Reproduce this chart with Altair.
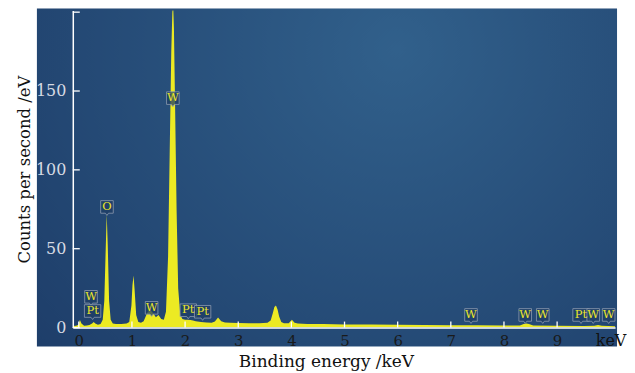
import altair as alt
import pandas as pd

# ---- spectrum ----
energy = [-0.11, -0.05, 0.0, 0.02, 0.05, 0.1, 0.15, 0.2, 0.25, 0.28, 0.31, 0.36, 0.41, 0.45, 0.48,
          0.505, 0.525, 0.545, 0.57, 0.6, 0.64, 0.7, 0.8, 0.9, 0.95, 0.99, 1.01, 1.03, 1.05, 1.08,
          1.12, 1.17, 1.22, 1.27, 1.3, 1.35, 1.4, 1.45, 1.5, 1.55, 1.6, 1.64, 1.68, 1.71, 1.74, 1.76,
          1.775, 1.79, 1.81, 1.84, 1.87, 1.91, 1.95, 2.0, 2.05, 2.1, 2.15, 2.2, 2.3, 2.4, 2.5, 2.56,
          2.62, 2.68, 2.75, 2.85, 3.0, 3.2, 3.4, 3.55, 3.61, 3.65, 3.68, 3.71, 3.74, 3.77, 3.81, 3.86,
          3.95, 4.01, 4.06, 4.12, 4.3, 4.6, 5.0, 5.5, 6.0, 6.5, 7.0, 7.3, 7.4, 7.5, 8.0, 8.3, 8.37,
          8.42, 8.47, 8.55, 9.0, 9.5, 9.7, 9.77, 9.84, 10.09]
counts = [1.0, 1.2, 2.0, 5.0, 2.5, 1.2, 1.3, 1.6, 2.5, 3.5, 2.5, 1.8, 2.2, 5.0, 17.0,
          48.0, 72.0, 52.0, 17.0, 5.0, 2.5, 2.2, 2.3, 2.6, 3.5, 14.0, 27.0, 33.0, 24.0, 8.0,
          3.5, 3.0, 4.0, 8.0, 10.0, 11.0, 9.0, 6.5, 8.0, 5.5, 5.0, 10.0, 45.0, 110.0, 175.0, 200.0,
          205.0, 190.0, 145.0, 75.0, 25.0, 8.0, 5.5, 5.0, 5.0, 4.8, 4.5, 4.0, 3.6, 3.2, 3.0, 3.8,
          6.3, 4.0, 3.2, 3.0, 2.9, 2.8, 2.7, 3.0, 4.5, 9.0, 13.0, 14.0, 11.5, 7.0, 3.5, 2.8,
          2.8, 5.0, 3.0, 2.5, 2.3, 2.2, 2.0, 1.9, 1.8, 1.6, 1.5, 1.4, 1.5, 1.4, 1.3, 1.3, 2.2,
          2.6, 2.2, 1.3, 1.1, 1.0, 1.2, 1.6, 1.1, 0.9]

# ---- peak labels ----
lab_text = ["W", "Pt", "O", "W", "W", "Pt", "Pt", "W", "W", "W", "Pt", "W", "W"]
lab_x = [0.23, 0.26, 0.53, 1.37, 1.77, 2.06, 2.33, 7.38, 8.40, 8.73, 9.45, 9.68, 9.97]
lab_y = [19.5, 10.5, 76.5, 12.5, 145.5, 11.0, 10.0, 8.0, 8.0, 8.0, 8.0, 8.0, 8.0]

x_ticks = [0, 1, 2, 3, 4, 5, 6, 7, 8, 9]
y_ticks = [0, 50, 100, 150, 200]
y_labels = [0, 50, 100, 150]

X_DOMAIN = [-0.113, 10.09]
Y_DOMAIN = [0, 201]
W, H = 544, 318
FONT = "DejaVu Serif"

spec = pd.DataFrame({"energy": energy, "counts": counts})
labels = pd.DataFrame({"label": lab_text, "x": lab_x, "y": lab_y})

xs = alt.Scale(domain=X_DOMAIN, nice=False, zero=False)
ys = alt.Scale(domain=Y_DOMAIN, nice=False, zero=False)

panel = alt.Chart(alt.Data(values=[{}])).mark_rect(
    color=alt.RadialGradient(
        gradient="radial", x1=0.62, y1=0.28, r1=0.0, x2=0.62, y2=0.28, r2=0.8,
        stops=[alt.GradientStop(offset=0, color="#31608b"),
               alt.GradientStop(offset=1, color="#1e3e6a")]),
).encode(x=alt.value(-36), x2=alt.value(W + 2), y=alt.value(-2), y2=alt.value(H + 19))

area = alt.Chart(spec).mark_area(color="#f3f020", opacity=0.97, clip=True, interpolate="linear").encode(
    x=alt.X("energy:Q", scale=xs,
            axis=alt.Axis(values=x_ticks, title="Binding energy /keV", ticks=False, grid=False,
                          domainColor="white", domainWidth=1.5, zindex=1,
                          labelColor="#1a1a1a", labelFont=FONT, labelFontSize=15, labelPadding=6,
                          titleFont=FONT, titleFontSize=17, titleFontWeight="normal",
                          titleColor="#111", titlePadding=5, titleX=254)),
    y=alt.Y("counts:Q", scale=ys,
            axis=alt.Axis(values=y_labels, title="Counts per second /eV", ticks=False, grid=False,
                          domainColor="white", domainWidth=1.5, zindex=1,
                          labelColor="#d6dae3", labelFont=FONT, labelFontSize=16, labelPadding=7,
                          titleFont=FONT, titleFontSize=16.5, titleFontWeight="normal",
                          titleColor="#111", titlePadding=3)),
)

xt = alt.Chart(pd.DataFrame({"t": x_ticks})).mark_rule(color="white", strokeWidth=1.3).encode(
    x=alt.X("t:Q", scale=xs), y=alt.value(H - 6), y2=alt.value(H))
yt = alt.Chart(pd.DataFrame({"t": y_ticks})).mark_rule(color="white", strokeWidth=1.3).encode(
    y=alt.Y("t:Q", scale=ys), x=alt.value(0), x2=alt.value(7))

box_w = "M-1,-1H1V1H0.25L0,1.35L-0.25,1H-1Z"
box_pt = "M-1.3,-1H1.3V1H0.25L0,1.35L-0.25,1H-1.3Z"
boxes = alt.Chart(labels).mark_point(
    filled=True, fill="#1f3e66", fillOpacity=0.75, stroke="#8d9aae", strokeWidth=0.8, size=160,
).encode(
    x=alt.X("x:Q", scale=xs), y=alt.Y("y:Q", scale=ys),
    shape=alt.Shape("label:N", scale=alt.Scale(domain=["W", "Pt", "O"], range=[box_w, box_pt, box_w]),
                    legend=None),
)
texts = alt.Chart(labels).mark_text(color="#ece62a", font=FONT, fontSize=11.5, dy=0).encode(
    x=alt.X("x:Q", scale=xs), y=alt.Y("y:Q", scale=ys), text="label:N")

kev = alt.Chart(alt.Data(values=[{}])).mark_text(
    text="keV", font=FONT, fontSize=16, color="#111").encode(x=alt.value(W - 4), y=alt.value(H + 14))

chart = alt.layer(panel, area, xt, yt, boxes, texts, kev).properties(
    width=W, height=H,
    autosize=alt.AutoSizeParams(type="none"),
    padding={"left": 65, "top": 2, "right": 12, "bottom": 46},
).configure_view(stroke=None).configure(background="white")

chart.save("out.html", embed_options={"renderer": "svg", "actions": False})
